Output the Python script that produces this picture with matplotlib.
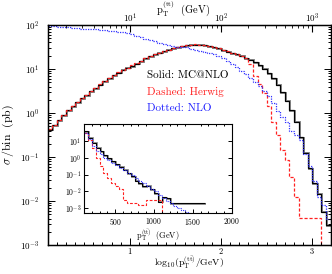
import numpy as np
import matplotlib
matplotlib.use('Agg')
import matplotlib.pyplot as plt
from matplotlib.ticker import MultipleLocator, LogLocator, NullFormatter
from matplotlib.transforms import offset_copy

plt.rcParams['font.family'] = ['cmr10', 'DejaVu Serif']
plt.rcParams['mathtext.fontset'] = 'cm'
plt.rcParams['axes.formatter.use_mathtext'] = True
plt.rcParams['axes.unicode_minus'] = False

# main histogram: bins in log10(pT/GeV), values given as log10(sigma/bin [pb])
bin_edges = np.round(np.arange(0.1, 3.2001, 0.05), 3)

mcnlo_log = [-0.38, -0.28, -0.16, -0.05, 0.06, 0.15, 0.25, 0.33, 0.41, 0.49,
             0.57, 0.64, 0.72, 0.79, 0.86, 0.92, 0.98, 1.03, 1.07, 1.12,
             1.18, 1.24, 1.29, 1.33, 1.37, 1.41, 1.44, 1.47, 1.50, 1.52,
             1.54, 1.55, 1.55, 1.55, 1.54, 1.52, 1.50, 1.47, 1.43, 1.39,
             1.36, 1.33, 1.30, 1.25, 1.21, 1.16, 1.09, 1.01, 0.91, 0.79,
             0.64, 0.47, 0.28, 0.06, -0.20, -0.55, -0.90, -1.26, -1.60, -1.83,
             -2.24, -2.55]

herwig_log = [-0.36, -0.27, -0.15, -0.04, 0.07, 0.16, 0.25, 0.34, 0.42, 0.50,
              0.57, 0.65, 0.72, 0.80, 0.86, 0.93, 0.98, 1.03, 1.08, 1.13,
              1.18, 1.24, 1.29, 1.34, 1.37, 1.41, 1.44, 1.47, 1.50, 1.52,
              1.54, 1.55, 1.56, 1.55, 1.54, 1.53, 1.50, 1.47, 1.44, 1.40,
              1.37, 1.34, 1.30, 1.25, 1.12, 0.85, 0.65, 0.45, 0.15, -0.20,
              -0.50, -0.84, -1.07, -1.45, -1.90, -2.39, -2.39, -2.39, -2.39, -2.39,
              None, None]

nlo_log = [1.98, 1.97, 1.96, 1.95, 1.95, 1.94, 1.93, 1.92, 1.92, 1.91,
           1.90, 1.89, 1.88, 1.87, 1.86, 1.85, 1.83, 1.82, 1.80, 1.76,
           1.72, 1.68, 1.66, 1.63, 1.60, 1.57, 1.55, 1.53, 1.51, 1.50,
           1.49, 1.46, 1.44, 1.42, 1.39, 1.36, 1.33, 1.29, 1.24, 1.18,
           1.12, 1.04, 0.96, 0.88, 0.80, 0.71, 0.61, 0.50, 0.38, 0.22,
           0.05, -0.10, -0.20, -0.40, -0.50, -0.62, -0.93, -1.20, -1.55, -1.90,
           -2.10, -2.40]

# inset histogram: linear pT bins (GeV)
inset_edges = [100, 150, 200, 250, 300, 350, 400, 450, 500, 550, 600, 650, 700,
               750, 800, 850, 900, 950, 1000, 1050, 1100, 1150, 1200, 1250, 1650]

inset_mcnlo_log = [1.6, 1.2, 0.9, 0.6, 0.38, 0.15, -0.03, -0.2, -0.38, -0.52,
                   -0.7, -0.9, -1.1, -1.35, -1.5, -1.7, -1.65, -1.85, -2.1, -2.6,
                   -2.35, -2.4, -2.7, -2.7]
inset_herwig_log = [1.5, 1.05, 0.6, 0.0, -0.5, -0.9, -1.2, -1.5, -1.7, -1.85,
                    -2.5, -2.7, -2.7, -2.7, -2.8, -2.8, -2.5, -2.5, -2.5, -2.5,
                    None, None, None, None]

inset_nlo_edges = [100, 150, 200, 250, 300, 350, 400, 450, 500, 550, 600, 650, 700,
                   750, 800, 850, 900, 950, 1000, 1050, 1100, 1150, 1200, 1250,
                   1300, 1350, 1400, 1450, 1500]
inset_nlo_log = [1.5, 1.1, 0.7, 0.4, 0.2, 0.0, -0.15, -0.3, -0.45, -0.6,
                 -0.75, -0.9, -1.05, -1.2, -1.35, -1.5, -1.65, -1.85, -2.0, -2.2,
                 -2.4, -2.55, -2.7, -2.85, -3.0, -3.1, -3.2, -3.35]


def to_pb(vals):
    return np.array([0.0 if v is None else 10.0 ** v for v in vals])


def style_ticks(ax, size_major=4, size_minor=2):
    ax.tick_params(which='both', direction='in', top=True, right=True, width=0.7)
    ax.tick_params(which='major', length=size_major)
    ax.tick_params(which='minor', length=size_minor)


fig = plt.figure(figsize=(3.32, 2.74), dpi=100)
ax = fig.add_axes([0.1437, 0.1058, 0.8518, 0.803])

shadow = offset_copy(ax.transData, fig=fig, x=1.0, y=-0.6, units='dots')
ax.stairs(to_pb(mcnlo_log), bin_edges, baseline=None, color='0.55', lw=1.4, transform=shadow)
ax.stairs(to_pb(mcnlo_log), bin_edges, baseline=None, color='black', lw=0.9)
ax.stairs(to_pb(herwig_log), bin_edges, baseline=None, color='#ff2020', lw=0.9, ls=(0, (2.5, 1.5)))
ax.stairs(to_pb(nlo_log), bin_edges, baseline=None, color='#3030ff', lw=0.9, ls=(0, (1, 1)))

ax.set_yscale('log', nonpositive='clip')
ax.set_xlim(0.1, 3.2)
ax.set_ylim(1e-3, 1e2)
ax.xaxis.set_major_locator(MultipleLocator(1))
ax.xaxis.set_minor_locator(MultipleLocator(0.1))
ax.yaxis.set_major_locator(LogLocator(base=10, numticks=10))
ax.yaxis.set_minor_locator(LogLocator(base=10, subs=np.arange(2, 10), numticks=20))
ax.yaxis.set_minor_formatter(NullFormatter())
style_ticks(ax, 5, 2.5)
ax.tick_params(labelsize=6.5)
ax.tick_params(axis='y', pad=6)
ax.tick_params(axis='x', pad=1, labelsize=6)
ax.tick_params(top=False)
for s in ax.spines.values():
    s.set_linewidth(1.0)

ax.set_xlabel(r'$\mathrm{log_{10}(p_T^{(t\bar{t})}/GeV)}$', fontsize=7, va='top')
ax.xaxis.set_label_coords(0.5, -0.045)
ax.set_ylabel(r'$\sigma\,\mathrm{/bin\ \ (pb)}$', fontsize=8.5, labelpad=3)

top = ax.twiny()
top.set_xscale('log')
top.set_xlim(10 ** 0.1, 10 ** 3.2)
top.xaxis.set_major_locator(LogLocator(base=10, numticks=10))
top.xaxis.set_minor_locator(LogLocator(base=10, subs=np.arange(2, 10), numticks=20))
top.xaxis.set_minor_formatter(NullFormatter())
top.tick_params(which='both', direction='in', labelsize=6.5, pad=0)
top.tick_params(which='major', length=5)
top.tick_params(which='minor', length=2.5)
top.set_xlabel(r'$\mathrm{p_T^{(t\bar{t})}\ \ (GeV)}$', fontsize=7.5, va='bottom')
top.xaxis.set_label_coords(0.48, 1.03)

ax.text(0.351, 0.773, 'Solid: MC@NLO', transform=ax.transAxes, fontsize=8, color='black', va='center')
ax.text(0.351, 0.696, 'Dashed: Herwig', transform=ax.transAxes, fontsize=8, color='#ff2020', va='center')
ax.text(0.351, 0.623, 'Dotted: NLO', transform=ax.transAxes, fontsize=8, color='#2020ff', va='center')

ins = fig.add_axes([0.253, 0.2215, 0.445, 0.325])
ishadow = offset_copy(ins.transData, fig=fig, x=1.0, y=-0.6, units='dots')
ins.stairs(to_pb(inset_mcnlo_log), inset_edges, baseline=None, color='0.55', lw=1.3, transform=ishadow)
ins.stairs(to_pb(inset_mcnlo_log), inset_edges, baseline=None, color='black', lw=0.8)
ins.stairs(to_pb(inset_herwig_log), inset_edges, baseline=None, color='#ff2020', lw=0.8, ls=(0, (2.5, 1.5)))
ins.stairs(to_pb(inset_nlo_log), inset_nlo_edges, baseline=None, color='#3030ff', lw=0.8, ls=(0, (1, 1)))
ins.set_yscale('log', nonpositive='clip')
ins.set_xlim(100, 2000)
ins.set_ylim(5e-4, 1e2)
ins.xaxis.set_major_locator(MultipleLocator(500))
ins.xaxis.set_minor_locator(MultipleLocator(100))
ins.set_yticks([1e1, 1e0, 1e-1, 1e-2, 1e-3])
ins.set_yticks([], minor=True)
style_ticks(ins, 3, 1.5)
ins.tick_params(top=False, labelsize=5.5, pad=2)
ins.set_xlabel(r'$\mathrm{p_T^{(t\bar{t})}\ \ (GeV)}$', fontsize=6, labelpad=0)

fig.savefig('out.png', dpi=100)
